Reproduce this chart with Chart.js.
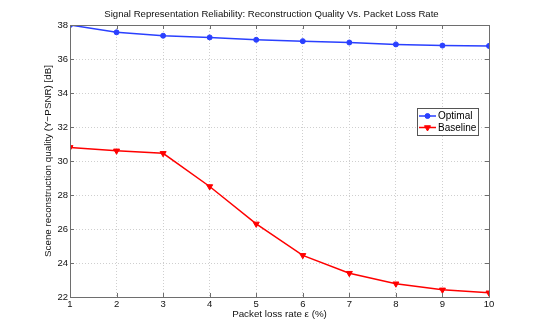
<!DOCTYPE html>
<html><head><meta charset="utf-8">
<script src="https://cdn.jsdelivr.net/npm/chart.js@4/dist/chart.umd.min.js"></script>
<style>html,body{margin:0;padding:0;background:#fff}#wrap{width:540px;height:333px}</style>
</head><body><div id="wrap"><canvas id="c" width="540" height="333"></canvas></div>
<script>
const lossRates = [1,2,3,4,5,6,7,8,9,10];
const optimal = [38.0,37.57,37.37,37.27,37.13,37.05,36.97,36.86,36.79,36.77];
const baseline = [30.8,30.6,30.45,28.5,26.3,24.45,23.4,22.78,22.42,22.25];
const yTicks = [22,24,26,28,30,32,34,36,38];
const seriesNames = ['Optimal','Baseline'];
const chartTitle = 'Signal Representation Reliability: Reconstruction Quality Vs. Packet Loss Rate';
const FONT = 'Liberation Sans, Arial, Helvetica, sans-serif';

const framePlugin = {
  id:'frame',
  afterDatasetsDraw(chart){
    const {ctx, chartArea:a, scales:{x,y}} = chart;
    ctx.save();
    // title
    ctx.fillStyle='#111'; ctx.font='9.6px '+FONT; ctx.textAlign='center'; ctx.textBaseline='middle';
    ctx.fillText(chartTitle, 271.5, 14);
    ctx.strokeStyle='#6e6e6e'; ctx.lineWidth=1;
    ctx.strokeRect(Math.round(a.left)+0.5, Math.round(a.top)+0.5, Math.round(a.right-a.left), Math.round(a.bottom-a.top));
    ctx.beginPath();
    lossRates.forEach(v=>{const px=Math.round(x.getPixelForValue(v))+0.5;
      ctx.moveTo(px,a.bottom);ctx.lineTo(px,a.bottom-4);ctx.moveTo(px,a.top);ctx.lineTo(px,a.top+4);});
    yTicks.forEach(v=>{const py=Math.round(y.getPixelForValue(v))+0.5;
      ctx.moveTo(a.left,py);ctx.lineTo(a.left+4,py);ctx.moveTo(a.right,py);ctx.lineTo(a.right-4,py);});
    ctx.stroke();
    // legend
    const lx=417, ly=108, lw=61, lh=27;
    ctx.fillStyle='#fff'; ctx.fillRect(lx,ly,lw,lh);
    ctx.strokeStyle='#555'; ctx.strokeRect(lx+0.5,ly+0.5,lw,lh);
    chart.data.datasets.forEach((ds,i)=>{
      const cy = ly+8+i*11.5;
      ctx.strokeStyle=ds.borderColor; ctx.lineWidth=1.5;
      ctx.beginPath(); ctx.moveTo(lx+2,cy); ctx.lineTo(lx+19,cy); ctx.stroke();
      ctx.fillStyle=ds.borderColor; ctx.lineWidth=1;
      Chart.helpers.drawPoint(ctx,{pointStyle:ds.pointStyle,rotation:ds.pointRotation||0,radius:ds.pointRadius,borderWidth:1},lx+10.5,cy);
      ctx.fillStyle='#000'; ctx.font='10px '+FONT; ctx.textBaseline='middle'; ctx.textAlign='left';
      ctx.fillText(ds.label, lx+21, cy+0.5);
    });
    ctx.restore();
  }
};

new Chart(document.getElementById('c'),{
  type:'line',
  data:{datasets:[
    {label:seriesNames[0], data:lossRates.map((r,i)=>({x:r,y:optimal[i]})), borderColor:'#2a40ff', backgroundColor:'#2a40ff',
     borderWidth:1.5, pointStyle:'circle', pointRadius:2.5, pointBorderWidth:1, tension:0},
    {label:seriesNames[1], data:lossRates.map((r,i)=>({x:r,y:baseline[i]})), borderColor:'#ff0000', backgroundColor:'#ff0000',
     borderWidth:1.5, pointStyle:'triangle', pointRotation:180, pointRadius:3.5, pointBorderWidth:1, tension:0}
  ]},
  options:{
    responsive:false, animation:false, devicePixelRatio:1,
    layout:{padding:{left:0,right:51,top:25,bottom:0}},
    plugins:{ legend:{display:false}, tooltip:{enabled:false}, title:{display:false} },
    scales:{
      x:{type:'linear',min:1,max:10,
        afterBuildTicks:s=>{s.ticks=lossRates.map(v=>({value:v}));},
        afterFit:s=>{s.height=36;},
        grid:{color:'#cfcfcf',drawTicks:false},
        border:{display:false,dash:[1,2]},
        ticks:{color:'#111',font:{family:FONT,size:9.5},padding:2,maxRotation:0},
        title:{display:true,text:'Packet loss rate ε (%)',color:'#111',font:{family:FONT,size:9.8},padding:{top:0,bottom:13}}
      },
      y:{type:'linear',min:22,max:38,
        afterBuildTicks:s=>{s.ticks=yTicks.map(v=>({value:v}));},
        afterFit:s=>{s.width=70;},
        grid:{color:'#cfcfcf',drawTicks:false},
        border:{display:false,dash:[1,2]},
        ticks:{color:'#111',font:{family:FONT,size:9.5},padding:2},
        title:{display:true,text:'Scene reconstruction quality (Y−PSNR) [dB]',color:'#111',font:{family:FONT,size:9.8},padding:{top:42,bottom:0}}
      }
    }
  },
  plugins:[framePlugin]
});
</script></body></html>
